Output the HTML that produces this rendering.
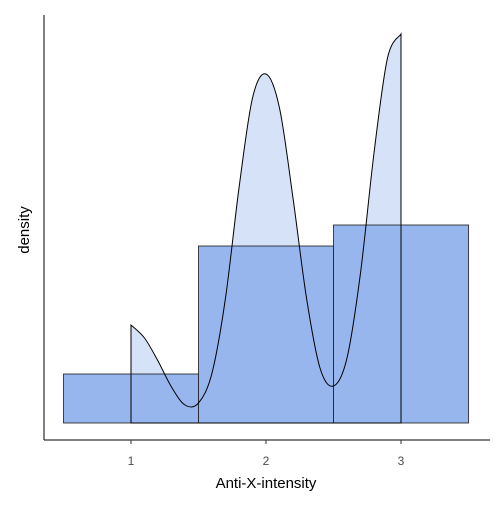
<!DOCTYPE html>
<html><head><meta charset="utf-8"><style>
body{margin:0;background:#fff}
svg text{font-family:"Liberation Sans",sans-serif}
</style></head><body>
<svg id="chart" width="504" height="504" xmlns="http://www.w3.org/2000/svg">
<rect width="504" height="504" fill="#fff"/>
<g id="marks"></g>
<line x1="44" y1="15" x2="44" y2="440" stroke="#000" stroke-width="1"/>
<line x1="44" y1="440" x2="490" y2="440" stroke="#000" stroke-width="1"/>
<g id="xticks"></g>
<text x="266" y="488" font-size="15" text-anchor="middle" fill="#000">Anti-X-intensity</text>
<text x="29" y="230" font-size="15" text-anchor="middle" fill="#000" transform="rotate(-90 29 230)">density</text>
</svg>
<script>
const binStarts=[0.5,1.5,2.5];
const binWidths=[1,1,1];
const binHeights=[49,177,198];
const densX=[1.0,1.1,1.2,1.3,1.4,1.5,1.6,1.7,1.8,1.9,2.0,2.1,2.2,2.3,2.4,2.5,2.6,2.7,2.8,2.9,3.0];
const densY=[98,85,62,36,18,20,50,125,235,325,349,315,225,125,55,37,65,150,270,365,389];
const xTicks=[1,2,3];
const xTickLabels=["1","2","3"];

const sx=v=>131+(v-1)*135;
const sy=v=>423-v;
const NS="http://www.w3.org/2000/svg";
const marks=document.getElementById('marks');
function mk(tag,attrs){const e=document.createElementNS(NS,tag);for(const k in attrs)e.setAttribute(k,attrs[k]);return e;}

const pts=densX.map((x,i)=>[sx(x),sy(densY[i])]);
let d='M'+sx(densX[0])+','+sy(0)+' L'+pts[0][0]+','+pts[0][1];
for(let i=0;i<pts.length-1;i++){
  const p0=pts[Math.max(0,i-1)],p1=pts[i],p2=pts[i+1],p3=pts[Math.min(pts.length-1,i+2)];
  const c1=[p1[0]+(p2[0]-p0[0])/6,p1[1]+(p2[1]-p0[1])/6];
  const c2=[p2[0]-(p3[0]-p1[0])/6,p2[1]-(p3[1]-p1[1])/6];
  d+=' C'+c1[0]+','+c1[1]+' '+c2[0]+','+c2[1]+' '+p2[0]+','+p2[1];
}
d+=' L'+sx(densX[densX.length-1])+','+sy(0)+' Z';

const densFill=mk('path',{d:d,fill:'#d6e2f7',stroke:'none'});


marks.appendChild(densFill);

binStarts.forEach((b,i)=>{
  const r=mk('rect',{x:sx(b),y:sy(binHeights[i]),width:sx(b+binWidths[i])-sx(b),height:binHeights[i],fill:'#97b6ee',stroke:'#1a1a1a','stroke-width':0.8});
  
  
  marks.appendChild(r);
});

const dens=mk('path',{d:d,fill:'none',stroke:'#000','stroke-width':1});


marks.appendChild(dens);

const xt=document.getElementById('xticks');
xTicks.forEach((t,i)=>{
  const l=mk('line',{x1:sx(t),x2:sx(t),y1:440,y2:444,stroke:'#333','stroke-width':1});
  
  
  xt.appendChild(l);
  const tx=mk('text',{x:sx(t),y:465,'font-size':12,'text-anchor':'middle',fill:'#4d4d4d'});
  tx.textContent=xTickLabels[i];
  
  
  xt.appendChild(tx);
});
</script>
</body></html>
